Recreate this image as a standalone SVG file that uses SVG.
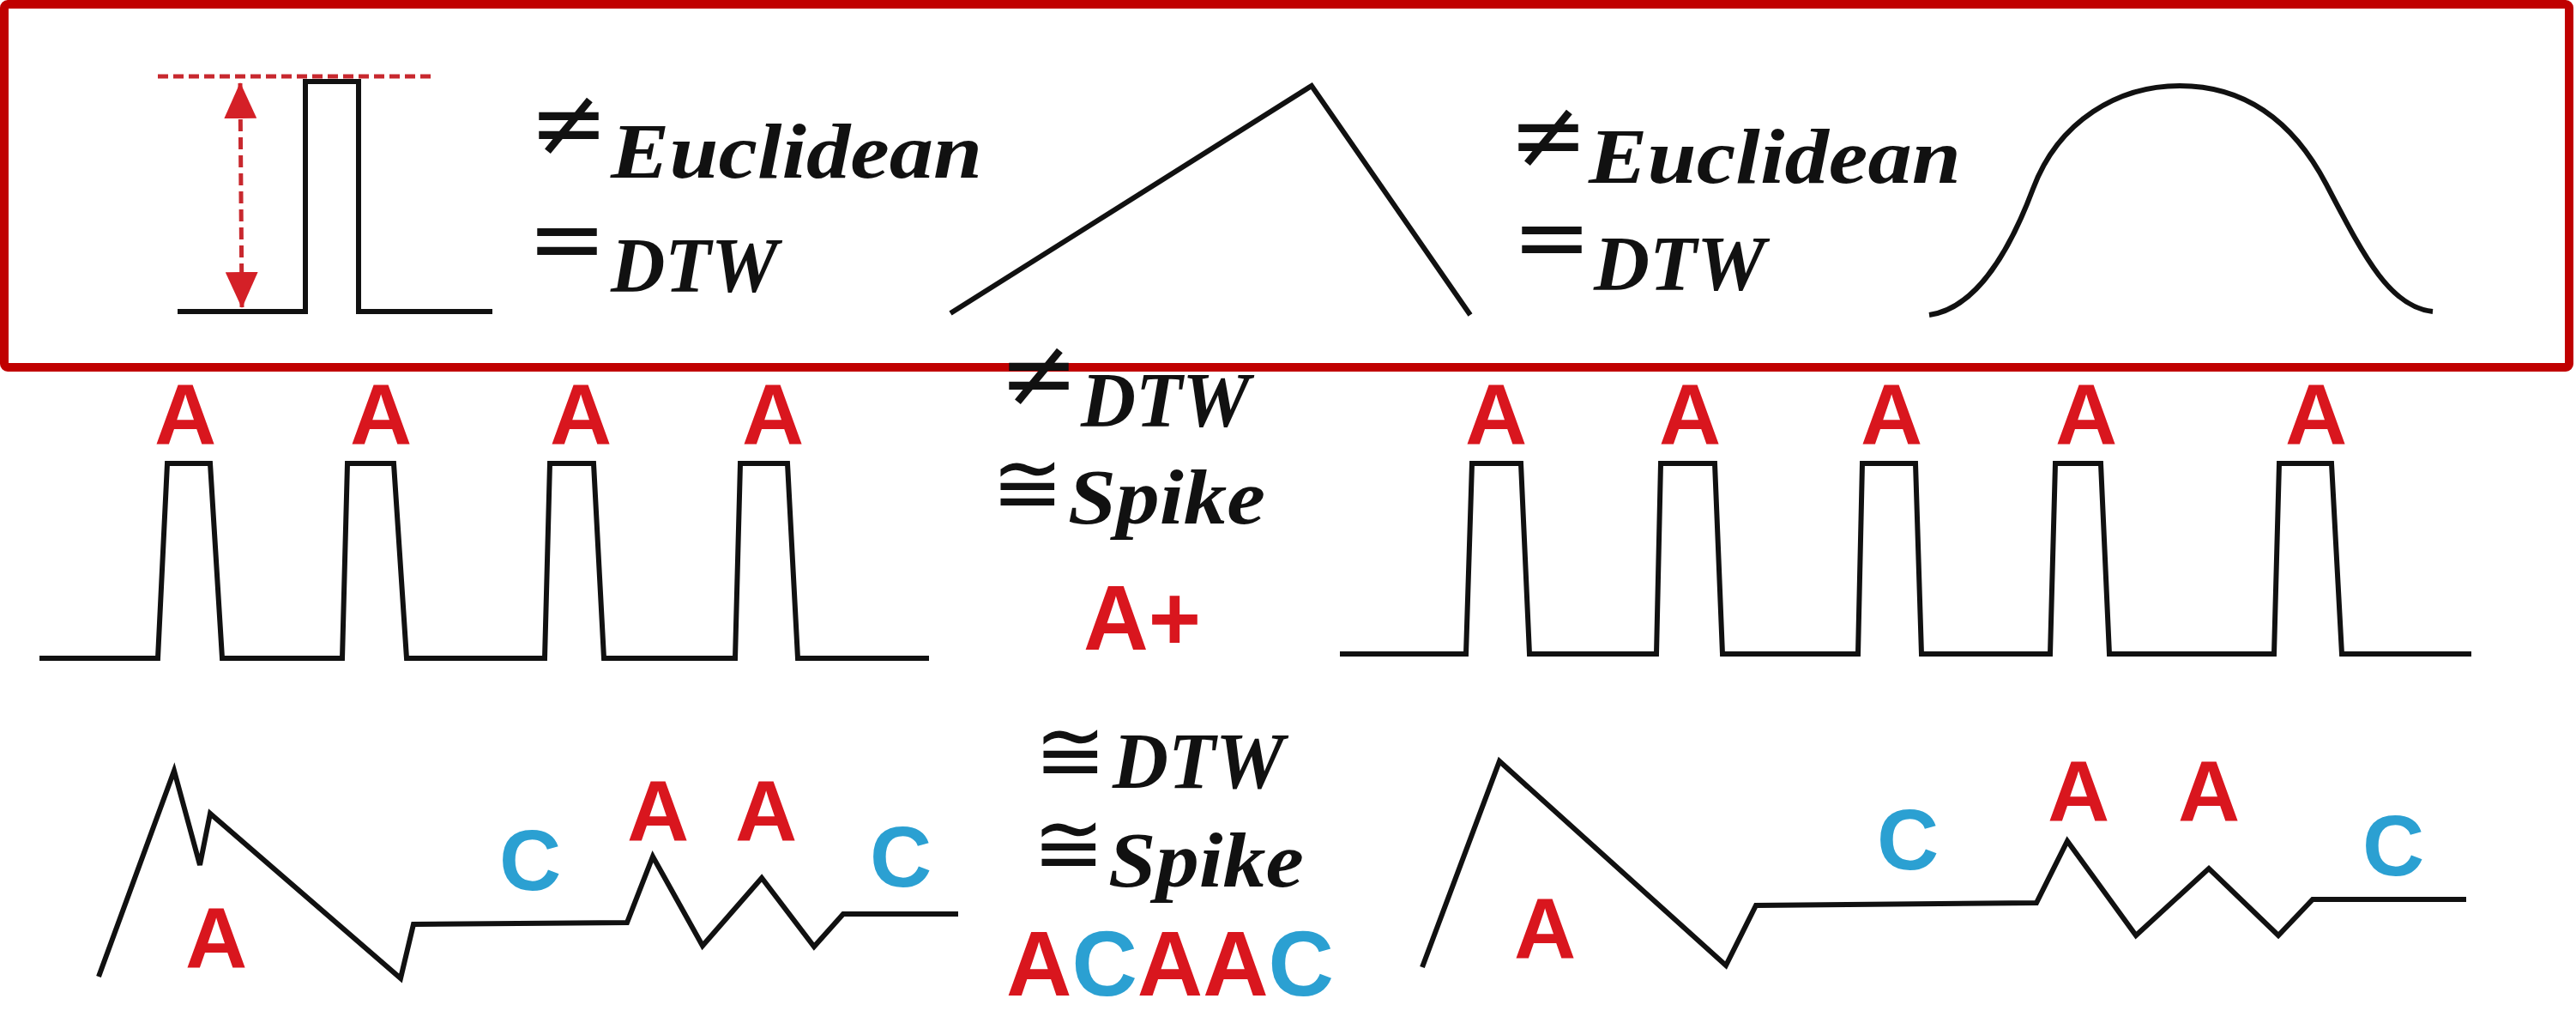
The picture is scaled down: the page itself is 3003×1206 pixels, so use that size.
<svg xmlns="http://www.w3.org/2000/svg" width="3003" height="1206" viewBox="0 0 3003 1206">
<style>
.sig{fill:none;stroke:#111;stroke-width:6;stroke-linejoin:miter;stroke-linecap:butt}
.math{font-family:"Liberation Serif","DejaVu Serif",serif;font-style:italic;font-weight:bold;fill:#111}
.op{font-family:"DejaVu Sans",sans-serif;fill:#111;text-anchor:middle}
.ra{font-family:"Liberation Sans",Arial,sans-serif;font-weight:bold;fill:#d9161e;text-anchor:middle}
.bc{font-family:"Liberation Sans",Arial,sans-serif;font-weight:bold;fill:#2ba0d2;text-anchor:middle}
.big{font-family:"Liberation Sans",Arial,sans-serif;font-weight:bold}
</style>
<defs>
<marker id="ah" markerUnits="userSpaceOnUse" markerWidth="42" markerHeight="38" viewBox="0 0 42 38" refX="41" refY="19" orient="auto-start-reverse">
<path d="M0,0 L42,19 L0,38 Z" fill="#d42027"/>
</marker>
</defs>
<rect width="3003" height="1206" fill="#fff"/>

<g id="frame">
<rect x="5" y="5" width="2990" height="423" rx="4" fill="none" stroke="#c00000" stroke-width="10"/>
</g>

<g id="sig-pulse-single">
<line x1="184" y1="89" x2="505" y2="89" stroke="#c8282e" stroke-width="5" stroke-dasharray="12 6"/>
<path class="sig" d="M207,363 H356 V95 H418 V363 H574"/>
</g>

<g id="sig-triangle">
<path class="sig" d="M1108,365 L1529,100 L1714,367"/>
</g>

<g id="sig-bell">
<path class="sig" d="M2249,367 C2300,360 2340,300 2370,220 S2470,100 2541,100 S2670,135 2712,215 S2785,358 2836,363"/>
</g>

<g id="label-top-1">
<text class="op" x="663" y="181" font-size="111">≠</text>
<text class="math" x="712" y="207" font-size="90" textLength="433" lengthAdjust="spacingAndGlyphs">Euclidean</text>
<text class="op" x="661" y="316" font-size="111">=</text>
<text class="math" x="712" y="340" font-size="90" textLength="195" lengthAdjust="spacingAndGlyphs">DTW</text>
</g>

<g id="label-top-2">
<text class="op" x="1805" y="195" font-size="111">≠</text>
<text class="math" x="1852" y="213" font-size="90" textLength="434" lengthAdjust="spacingAndGlyphs">Euclidean</text>
<text class="op" x="1809" y="314" font-size="111">=</text>
<text class="math" x="1858" y="338" font-size="90" textLength="200" lengthAdjust="spacingAndGlyphs">DTW</text>
</g>

<g id="sig-train-4">
<path class="sig" stroke-width="5" d="M46,767 H184 L195,540 H245 L259,767 H399 L405,540 H459 L474,767 H635 L641,540 H692 L704,767 H857 L863,540 H918 L930,767 H1083"/>
<text class="ra" x="216" y="518" font-size="100">A</text>
<text class="ra" x="444" y="518" font-size="100">A</text>
<text class="ra" x="677" y="518" font-size="100">A</text>
<text class="ra" x="901" y="518" font-size="100">A</text>
</g>

<g id="sig-train-5">
<path class="sig" stroke-width="5" d="M1562,762 H1709 L1716,540 H1773 L1783,762 H1931 L1936,540 H1999 L2008,762 H2166 L2171,540 H2233 L2240,762 H2390 L2396,540 H2449 L2459,762 H2651 L2657,540 H2718 L2730,762 H2881"/>
<text class="ra" x="1744" y="518" font-size="100">A</text>
<text class="ra" x="1970" y="518" font-size="100">A</text>
<text class="ra" x="2205" y="518" font-size="100">A</text>
<text class="ra" x="2432" y="518" font-size="100">A</text>
<text class="ra" x="2700" y="518" font-size="100">A</text>
</g>

<g id="label-mid-1">
<text class="op" x="1211" y="473" font-size="111">≠</text>
<text class="math" x="1260" y="497" font-size="91" textLength="197" lengthAdjust="spacingAndGlyphs">DTW</text>
<text class="op" x="1198" y="598" font-size="100">≅</text>
<text class="math" x="1245" y="610" font-size="91" textLength="230" lengthAdjust="spacingAndGlyphs">Spike</text>
<text class="big" x="1263" y="757" font-size="107" fill="#d9161e" textLength="137" lengthAdjust="spacingAndGlyphs">A+</text>
</g>

<g id="label-mid-2">
<text class="op" x="1248" y="910" font-size="100">≅</text>
<text class="math" x="1297" y="918" font-size="93" textLength="200" lengthAdjust="spacingAndGlyphs">DTW</text>
<text class="op" x="1246" y="1018" font-size="100">≅</text>
<text class="math" x="1292" y="1033" font-size="91" textLength="228" lengthAdjust="spacingAndGlyphs">Spike</text>
<text class="big" x="1173" y="1160" font-size="107" textLength="382" lengthAdjust="spacingAndGlyphs"><tspan fill="#d9161e">A</tspan><tspan fill="#2ba0d2">C</tspan><tspan fill="#d9161e">AA</tspan><tspan fill="#2ba0d2">C</tspan></text>
</g>

<g id="sig-acaac-1">
<path class="sig" d="M115,1138 L203,898 L233,1008 L245,948 L467,1140 L482,1077 L731,1075 L761,998 L819,1102 L888,1023 L949,1103 L983,1065 L1117,1065"/>
<text class="ra" x="252" y="1128" font-size="100">A</text>
<text class="bc" x="618" y="1037" font-size="100">C</text>
<text class="ra" x="767" y="980" font-size="100">A</text>
<text class="ra" x="893" y="980" font-size="100">A</text>
<text class="bc" x="1050" y="1033" font-size="100">C</text>
</g>

<g id="sig-acaac-2">
<path class="sig" d="M1658,1127 L1748,887 L2012,1125 L2047,1055 L2374,1052 L2410,980 L2490,1090 L2575,1012 L2656,1090 L2696,1048 L2875,1048"/>
<text class="ra" x="1801" y="1117" font-size="100">A</text>
<text class="bc" x="2224" y="1013" font-size="100">C</text>
<text class="ra" x="2423" y="957" font-size="100">A</text>
<text class="ra" x="2575" y="957" font-size="100">A</text>
<text class="bc" x="2790" y="1020" font-size="100">C</text>
</g>

<g id="connectors">
<line x1="280" y1="97" x2="282" y2="358" stroke="#c8282e" stroke-width="5" stroke-dasharray="14 7" marker-start="url(#ah)" marker-end="url(#ah)"/>
</g>
</svg>
